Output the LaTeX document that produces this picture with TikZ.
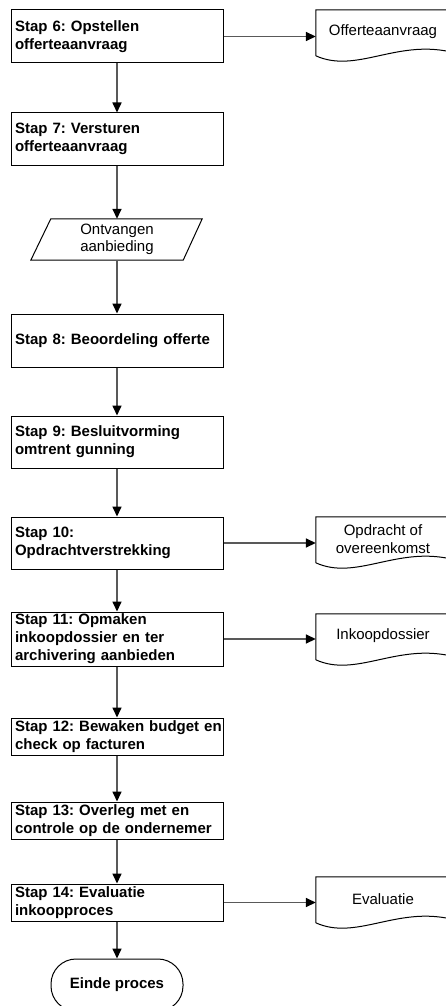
\documentclass[tikz,border=0pt]{standalone}
\usepackage{fontspec}
\setmainfont{Liberation Sans}
\usetikzlibrary{arrows.meta,calc}
\frenchspacing
\begin{document}
\begin{tikzpicture}[x=1pt,y=-1pt,
  stepbox/.style={draw=black,line width=1pt,rectangle,minimum width=212pt,text width=204pt,inner xsep=4pt,inner ysep=0pt,align=left,font=\fontsize{15}{18}\selectfont\bfseries},
  doctext/.style={inner sep=0pt,minimum width=134pt,minimum height=44pt,align=center,font=\fontsize{15}{17.5}\selectfont},
  docline/.style={draw=black,line width=1pt},
  conn/.style={draw=black!65,line width=1.6pt,-{Triangle[length=10pt,width=9pt,black]}}
]
\useasboundingbox (0,0) rectangle (446,1006);
\clip (0,0) rectangle (446,1006);
\fill[white] (0,0) rectangle (446,1006);

% process boxes
\node[stepbox,minimum height=53pt] (b6) at (117,36.5) {\mbox{Stap 6: Opstellen}\\\mbox{offerteaanvraag}};
\node[stepbox,minimum height=52pt] (b7) at (117,139) {\mbox{Stap 7: Versturen}\\\mbox{offerteaanvraag}};
\node[inner sep=0pt,minimum width=152pt,minimum height=41pt,align=center,font=\fontsize{15}{16.5}\selectfont] (p) at (117,239.5) {Ontvangen\\aanbieding};
\draw[docline] ([xshift=10pt]p.north west) -- ([xshift=9pt]p.north east) -- ([xshift=-10pt]p.south east) -- ([xshift=-10pt]p.south west) -- cycle;
\node[stepbox,minimum height=53pt] (b8) at (117,340.5) {\mbox{Stap 8: Beoordeling offerte}};
\node[stepbox,minimum height=52pt] (b9) at (117,442) {\mbox{Stap 9: Besluitvorming}\\\mbox{omtrent gunning}};
\node[stepbox,minimum height=52pt] (b10) at (117,543) {\mbox{Stap 10:}\\\mbox{Opdrachtverstrekking}};
\node[stepbox,minimum height=54pt] (b11) at (117,639) {\mbox{Stap 11: Opmaken}\\\mbox{inkoopdossier en ter}\\\mbox{archivering aanbieden}};
\node[stepbox,minimum height=37pt] (b12) at (117,736.5) {\mbox{Stap 12: Bewaken budget en}\\\mbox{check op facturen}};
\node[stepbox,minimum height=37pt] (b13) at (117,820.5) {\mbox{Stap 13: Overleg met en}\\\mbox{controle op de ondernemer}};
\node[stepbox,minimum height=37pt] (b14) at (117,902.5) {\mbox{Stap 14: Evaluatie}\\\mbox{inkoopproces}};
\node[draw=black,line width=1pt,rounded corners=25pt,minimum width=132pt,minimum height=52pt,inner sep=0pt,font=\fontsize{15}{18}\selectfont\bfseries] (end) at (117,985) {Einde proces};

% documents
\node[doctext] (d1) at (383,32) {Offerteaanvraag};
\node[doctext] (d2) at (383,539) {Opdracht of\\overeenkomst};
\node[doctext] (d3) at (383,636) {Inkoopdossier};
\node[doctext] (d4) at (383,899) {Evaluatie};
\foreach \d in {d1,d2,d3,d4}{
  \draw[docline] ($(\d.north west)+(0,46)$) -- (\d.north west) -- (\d.north east) -- ($(\d.north east)+(0,42)$)
    .. controls ($(\d.north west)+(80,30)$) and ($(\d.north west)+(40,64)$) .. ($(\d.north west)+(0,46)$);
}

% connectors
\draw[conn] (b6) -- (b7);
\draw[conn] (b7) -- (p);
\draw[conn] (p) -- (b8);
\draw[conn] (b8) -- (b9);
\draw[conn] (b9) -- (b10);
\draw[conn] (b10) -- (b11);
\draw[conn] (b11) -- (b12);
\draw[conn] (b12) -- (b13);
\draw[conn] (b13) -- (b14);
\draw[conn] (b14) -- (end);
\draw[conn] (b6.east) -- (b6.east -| d1.west);
\draw[conn] (b10.east) -- (b10.east -| d2.west);
\draw[conn] (b11.east) -- (b11.east -| d3.west);
\draw[conn] (b14.east) -- (b14.east -| d4.west);
\end{tikzpicture}
\end{document}
